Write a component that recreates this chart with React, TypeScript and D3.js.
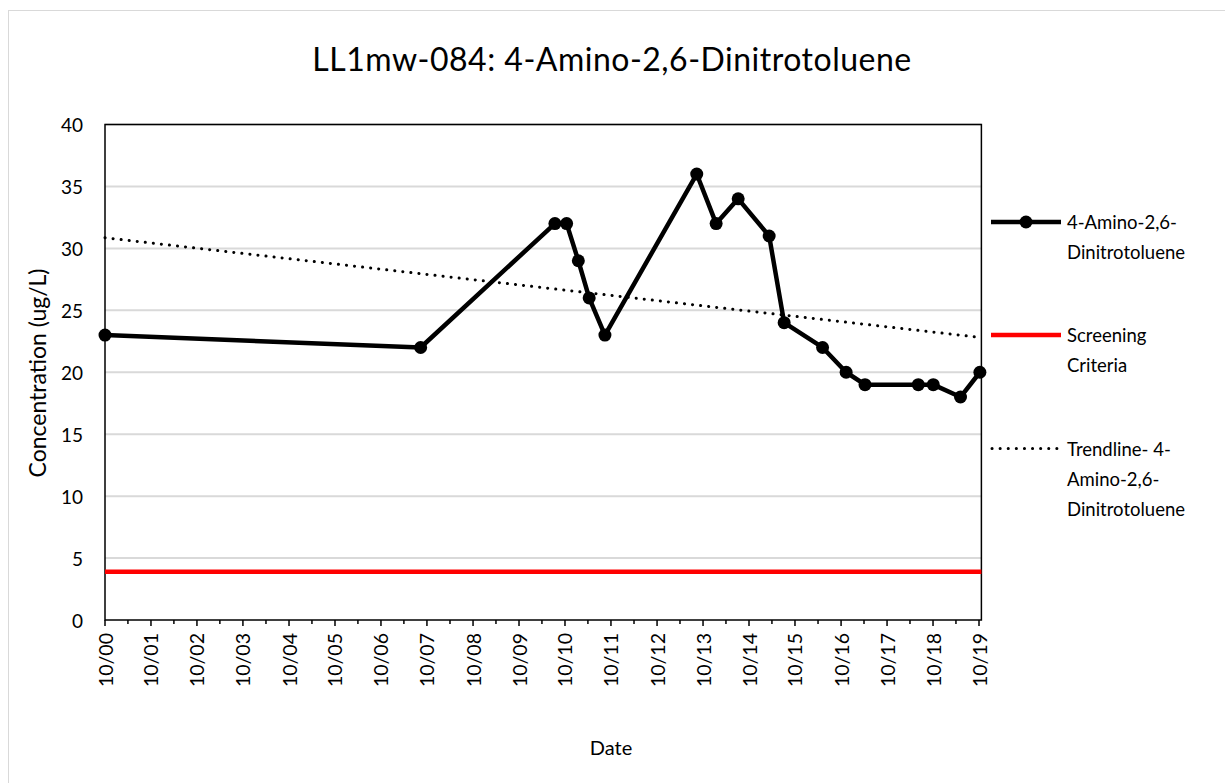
import React from "react";
import * as d3 from "d3";

const title = "LL1mw-084: 4-Amino-2,6-Dinitrotoluene";
const yAxisTitle = "Concentration (ug/L)";
const xAxisTitle = "Date";
const seriesName = "4-Amino-2,6-Dinitrotoluene";
const dates = [
  "2000-10-01", "2007-08-12", "2010-07-13", "2010-10-14", "2011-01-15", "2011-04-11",
  "2011-08-14", "2013-08-12", "2014-01-13", "2014-07-07", "2015-03-10", "2015-07-07",
  "2016-05-07", "2016-11-10", "2017-04-09", "2018-06-06", "2018-10-03", "2019-05-07",
  "2019-10-08",
];
const values = [23, 22, 32, 32, 29, 26, 23, 36, 32, 34, 31, 24, 22, 20, 19, 19, 19, 18, 20];
const screeningValue = 3.9;
const yTicks = [0, 5, 10, 15, 20, 25, 30, 35, 40];
const legendLabels = [
  ["4-Amino-2,6-", "Dinitrotoluene"],
  ["Screening", "Criteria"],
  ["Trendline- 4-", "Amino-2,6-", "Dinitrotoluene"],
];

const FONT = "Lato, 'Open Sans', sans-serif";

export default function App() {
  const W = 1225, H = 783;
  const left = 105, right = 979, top = 124.5, bottom = 620;
  const parse = d3.utcParse("%Y-%m-%d");
  const pts = dates.map((d, i) => ({ d: parse(d)!, v: values[i] }));
  const x0 = parse("2000-10-01")!;
  const x1 = parse("2019-10-01")!;
  const xFrameEnd = parse("2019-10-20")!;
  const x = d3.scaleUtc().domain([x0, x1]).range([left, right]);
  const y = d3.scaleLinear().domain([0, 40]).range([bottom, top]);
  const frameRight = x(xFrameEnd);

  const nYears = d3.utcYear.count(x0, x1);
  const majorTicks = d3.range(0, nYears + 1).map((i) => d3.utcMonth.offset(x0, 12 * i));
  const minorTicks = majorTicks.slice(0, -1).map((t) => d3.utcMonth.offset(t, 6));
  const fmt = d3.utcFormat("%m/%y");

  // linear regression trendline
  const xs = pts.map((p) => +p.d);
  const ys = pts.map((p) => p.v);
  const mx = d3.mean(xs)!, my = d3.mean(ys)!;
  const sxy = d3.sum(xs, (xv, i) => (xv - mx) * (ys[i] - my));
  const sxx = d3.sum(xs, (xv) => (xv - mx) * (xv - mx));
  const slope = sxy / sxx;
  const intercept = my - slope * mx;
  const tStart = xs[0], tEnd = xs[xs.length - 1];

  const line = d3.line<{ d: Date; v: number }>().x((p) => x(p.d)).y((p) => y(p.v));

  const legX0 = 991, legX1 = 1061, legTextX = 1067;
  const legY = [222, 335, 448.5];
  const lh = 30;

  return (
    <svg width={W} height={H} style={{ position: "absolute", left: 0, top: 0, background: "#fff" }}>
      <rect x={8.5} y={10.5} width={W + 20} height={H + 20} fill="#fff" stroke="#d9d9d9" strokeWidth={1} />
      <text x={612} y={58} textAnchor="middle" dominantBaseline="central" fontFamily={FONT} fontSize={32} letterSpacing={0.5} fill="#000">
        {title}
      </text>
      {yTicks.slice(1).map((t) => (
        <line key={t} x1={left} x2={frameRight} y1={y(t)} y2={y(t)} stroke="#d9d9d9" strokeWidth={2} />
      ))}
      {yTicks.map((t) => (
        <text key={t} x={83} y={y(t)} textAnchor="end" dominantBaseline="central" fontFamily={FONT} fontSize={19} fill="#000">
          {t}
        </text>
      ))}
      <rect x={left} y={top} width={frameRight - left} height={bottom - top} fill="none" stroke="#000" strokeWidth={1.5} />
      {majorTicks.map((t, i) => (
        <g key={i}>
          <line x1={x(t)} x2={x(t)} y1={bottom} y2={bottom + 6} stroke="#000" strokeWidth={1.5} />
          <text
            transform={`translate(${x(t)},${633}) rotate(-90)`}
            textAnchor="end"
            dominantBaseline="central"
            fontFamily={FONT}
            fontSize={19.5}
            fill="#000"
          >
            {fmt(t)}
          </text>
        </g>
      ))}
      {minorTicks.map((t, i) => (
        <line key={i} x1={x(t)} x2={x(t)} y1={bottom} y2={bottom + 4} stroke="#000" strokeWidth={1.5} />
      ))}
      <line x1={left} x2={frameRight} y1={y(screeningValue)} y2={y(screeningValue)} stroke="#ff0000" strokeWidth={4.5} />
      <path d={line(pts)!} fill="none" stroke="#000" strokeWidth={4.5} strokeLinejoin="round" />
      {pts.map((p, i) => (
        <circle key={i} cx={x(p.d)} cy={y(p.v)} r={6.5} fill="#000" />
      ))}
      <line
        x1={x(new Date(tStart))}
        x2={x(new Date(tEnd))}
        y1={y(intercept + slope * tStart)}
        y2={y(intercept + slope * tEnd)}
        stroke="#000"
        strokeWidth={3}
        strokeDasharray="0.1 8"
        strokeLinecap="round"
      />
      <text transform={`translate(37,373) rotate(-90)`} textAnchor="middle" dominantBaseline="central" fontFamily={FONT} fontSize={23} fill="#000">
        {yAxisTitle}
      </text>
      <text x={611} y={747} textAnchor="middle" dominantBaseline="central" fontFamily={FONT} fontSize={20} fill="#000">
        {xAxisTitle}
      </text>
      {/* legend */}
      <line x1={legX0} x2={legX1} y1={legY[0]} y2={legY[0]} stroke="#000" strokeWidth={4.5} />
      <circle cx={(legX0 + legX1) / 2} cy={legY[0]} r={6.5} fill="#000" />
      <line x1={legX0} x2={legX1} y1={legY[1]} y2={legY[1]} stroke="#ff0000" strokeWidth={4.5} />
      <line x1={legX0 + 1} x2={legX1} y1={legY[2]} y2={legY[2]} stroke="#000" strokeWidth={3} strokeDasharray="0.1 8" strokeLinecap="round" />
      {legendLabels.map((lines, k) =>
        lines.map((s, j) => (
          <text key={`${k}-${j}`} x={legTextX} y={legY[k] + j * lh} dominantBaseline="central" fontFamily={FONT} fontSize={18.5} fill="#000">
            {s}
          </text>
        ))
      )}
      <title>{seriesName}</title>
    </svg>
  );
}
